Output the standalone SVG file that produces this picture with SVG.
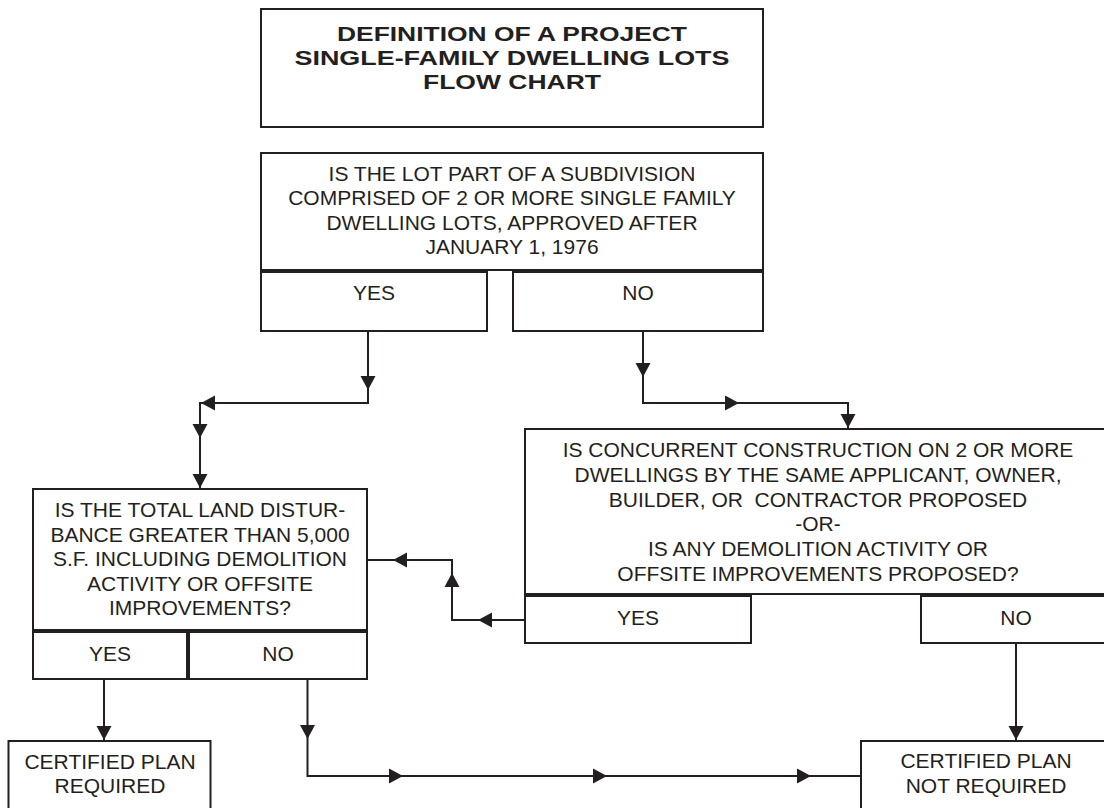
<svg xmlns="http://www.w3.org/2000/svg" xmlns:xlink="http://www.w3.org/1999/xlink" width="1104" height="808" viewBox="0 0 1104 808">
<style>
.box{fill:#fff;stroke:#231f20;stroke-width:2}
.t{font-family:"Liberation Sans",Arial,sans-serif;font-size:21px;fill:#231f20;text-anchor:middle}
.tb{font-family:"Liberation Sans",Arial,sans-serif;font-size:21px;font-weight:bold;fill:#231f20;text-anchor:middle}
.c{fill:none;stroke:#231f20;stroke-width:2}
.ah{fill:#231f20}
</style>
<defs>
<path id="ah" class="ah" d="M-7.5,-14 L7.5,-14 L0,0 Z"/>
</defs>
<rect width="1104" height="808" fill="#fff"/>
<g id="title">
<rect class="box" x="261" y="9" width="502" height="118"/>
<text class="tb" x="512" y="41" textLength="350" lengthAdjust="spacingAndGlyphs">DEFINITION OF A PROJECT</text>
<text class="tb" x="512" y="65" textLength="435" lengthAdjust="spacingAndGlyphs">SINGLE-FAMILY DWELLING LOTS</text>
<text class="tb" x="512" y="89" textLength="178" lengthAdjust="spacingAndGlyphs">FLOW CHART</text>
</g>
<g id="q1">
<rect class="box" x="261" y="153" width="502" height="117"/>
<text class="t" x="512" y="181">IS THE LOT PART OF A SUBDIVISION</text>
<text class="t" x="512" y="205">COMPRISED OF 2 OR MORE SINGLE FAMILY</text>
<text class="t" x="512" y="230">DWELLING LOTS, APPROVED AFTER</text>
<text class="t" x="512" y="254">JANUARY 1, 1976</text>
</g>
<g id="q1-yes">
<rect class="box" x="261" y="272" width="226" height="59"/>
<text class="t" x="374" y="300">YES</text>
</g>
<g id="q1-no">
<rect class="box" x="513" y="272" width="250" height="59"/>
<text class="t" x="638" y="300">NO</text>
</g>
<g id="q2">
<rect class="box" x="33" y="489" width="334" height="141"/>
<text class="t" x="200" y="517">IS THE TOTAL LAND DISTUR-</text>
<text class="t" x="200" y="541.5">BANCE GREATER THAN 5,000</text>
<text class="t" x="200" y="566">S.F. INCLUDING DEMOLITION</text>
<text class="t" x="200" y="590.5">ACTIVITY OR OFFSITE</text>
<text class="t" x="200" y="615">IMPROVEMENTS?</text>
</g>
<g id="q2-yes">
<rect class="box" x="33" y="632" width="154" height="47"/>
<text class="t" x="110" y="661">YES</text>
</g>
<g id="q2-no">
<rect class="box" x="189" y="632" width="178" height="47"/>
<text class="t" x="278" y="661">NO</text>
</g>
<g id="q3">
<rect class="box" x="525" y="429" width="590" height="165"/>
<text class="t" x="818" y="457">IS CONCURRENT CONSTRUCTION ON 2 OR MORE</text>
<text class="t" x="818" y="482">DWELLINGS BY THE SAME APPLICANT, OWNER,</text>
<text class="t" x="818" y="507" xml:space="preserve">BUILDER, OR  CONTRACTOR PROPOSED</text>
<text class="t" x="818" y="531">-OR-</text>
<text class="t" x="818" y="556">IS ANY DEMOLITION ACTIVITY OR</text>
<text class="t" x="818" y="581">OFFSITE IMPROVEMENTS PROPOSED?</text>
</g>
<g id="q3-yes">
<rect class="box" x="525" y="596" width="226" height="47"/>
<text class="t" x="638" y="625">YES</text>
</g>
<g id="q3-no">
<rect class="box" x="921" y="596" width="190" height="47"/>
<text class="t" x="1016" y="625">NO</text>
</g>
<g id="cert-required">
<rect class="box" x="8.5" y="741" width="202" height="80"/>
<text class="t" x="110" y="769">CERTIFIED PLAN</text>
<text class="t" x="110" y="793">REQUIRED</text>
</g>
<g id="cert-not-required">
<rect class="box" x="861" y="741" width="250" height="80"/>
<text class="t" x="986" y="768">CERTIFIED PLAN</text>
<text class="t" x="986" y="793">NOT REQUIRED</text>
</g>
<g id="connectors">
<path class="c" d="M368,331 V403 H200 V489"/>
<path class="c" d="M643,331 V403 H848 V429"/>
<path class="c" d="M525,620 H452 V560 H367"/>
<path class="c" d="M104,679 V741"/>
<path class="c" d="M307.5,679 V776 H861"/>
<path class="c" d="M1016,643 V741"/>
<use xlink:href="#ah" transform="translate(368,390)"/>
<use xlink:href="#ah" transform="translate(201,403) rotate(90)"/>
<use xlink:href="#ah" transform="translate(200,438)"/>
<use xlink:href="#ah" transform="translate(200,488)"/>
<use xlink:href="#ah" transform="translate(643,377)"/>
<use xlink:href="#ah" transform="translate(739,403) rotate(-90)"/>
<use xlink:href="#ah" transform="translate(848,428)"/>
<use xlink:href="#ah" transform="translate(478,620) rotate(90)"/>
<use xlink:href="#ah" transform="translate(452,573) rotate(180)"/>
<use xlink:href="#ah" transform="translate(393,560) rotate(90)"/>
<use xlink:href="#ah" transform="translate(104,740)"/>
<use xlink:href="#ah" transform="translate(307.5,739)"/>
<use xlink:href="#ah" transform="translate(403,776) rotate(-90)"/>
<use xlink:href="#ah" transform="translate(607,776) rotate(-90)"/>
<use xlink:href="#ah" transform="translate(811,776) rotate(-90)"/>
<use xlink:href="#ah" transform="translate(1016,740)"/>
</g>
</svg>
